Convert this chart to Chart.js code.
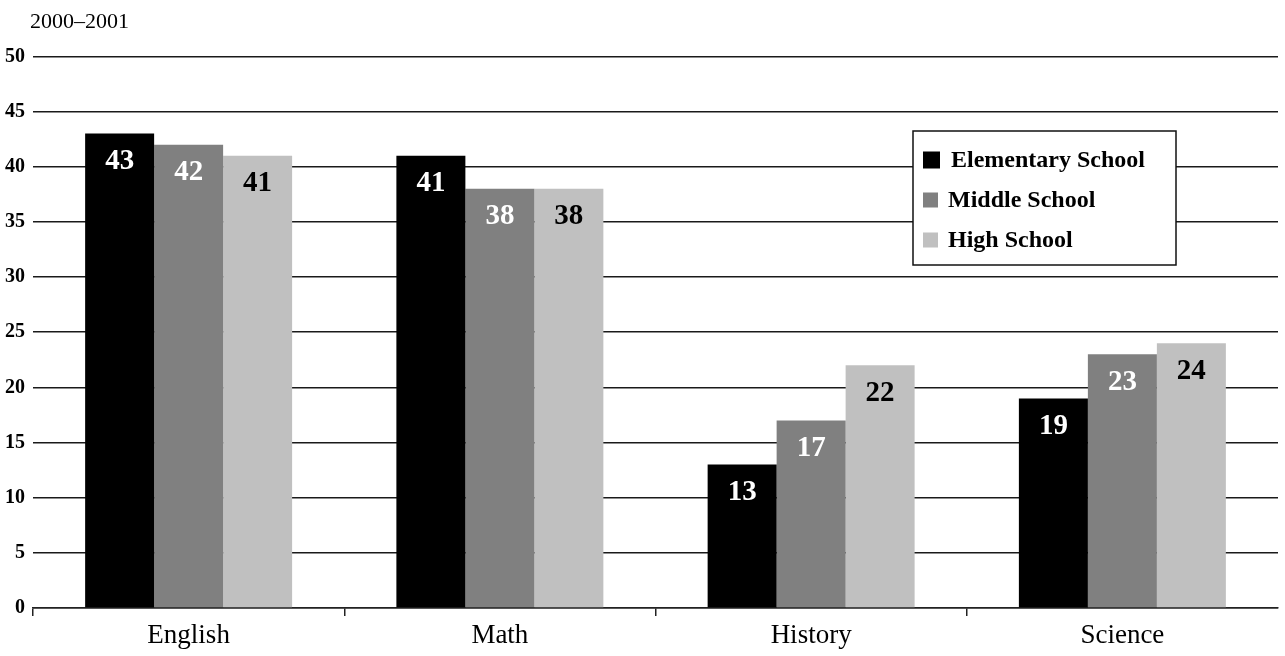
<!DOCTYPE html>
<html>
<head>
<meta charset="utf-8">
<title>2000–2001</title>
<script src="https://cdn.jsdelivr.net/npm/chart.js@4/dist/chart.umd.min.js"></script>
<style>
  html, body { margin: 0; padding: 0; background: #fff; }
  #wrap { position: relative; width: 1285px; height: 656px; }
</style>
</head>
<body>
<div id="wrap"><canvas id="chart" width="1285" height="656"></canvas></div>
<script>
// Subjects along the x axis
const subjects = ['English', 'Math', 'History', 'Science'];

// Values per school level, one per subject
const elementarySchool = [43, 41, 13, 19];
const middleSchool = [42, 38, 17, 23];
const highSchool = [41, 38, 22, 24];

const seriesNames = ['Elementary School', 'Middle School', 'High School'];
const yTicks = [0, 5, 10, 15, 20, 25, 30, 35, 40, 45, 50];
const periodTitle = '2000–2001';

const SERIF = '"Liberation Serif", "Times New Roman", serif';

// Value printed inside the top of each bar
const barValueLabels = {
  id: 'barValueLabels',
  afterDatasetsDraw(chart) {
    const ctx = chart.ctx;
    ctx.save();
    ctx.font = 'bold 29px ' + SERIF;
    ctx.textAlign = 'center';
    ctx.textBaseline = 'middle';
    chart.data.datasets.forEach((ds, i) => {
      const meta = chart.getDatasetMeta(i);
      ctx.fillStyle = ds.labelColor;
      meta.data.forEach((bar, j) => {
        ctx.fillText(String(ds.data[j]), bar.x, bar.y + 28);
      });
    });
    ctx.restore();
  }
};

// Boxed legend floating over the plot area
const boxedLegend = {
  id: 'boxedLegend',
  afterDraw(chart, args, opts) {
    const ctx = chart.ctx;
    const { x, y, w, h, rowGap, firstRow } = opts;
    ctx.save();
    ctx.fillStyle = '#fff';
    ctx.fillRect(x, y, w, h);
    ctx.strokeStyle = '#111';
    ctx.lineWidth = 1.5;
    ctx.strokeRect(x, y, w, h);
    ctx.font = 'bold 24px ' + SERIF;
    ctx.textBaseline = 'middle';
    ctx.textAlign = 'left';
    chart.data.datasets.forEach((ds, i) => {
      const cy = y + firstRow + i * rowGap;
      const s = i === 0 ? 17 : 15;
      ctx.fillStyle = ds.backgroundColor;
      ctx.fillRect(x + 10, cy - s / 2, s, s);
      ctx.fillStyle = '#000';
      ctx.fillText(ds.label, x + (i === 0 ? 38 : 35), cy + 1);
    });
    ctx.restore();
  }
};

// Shift the title so it starts just right of the tick labels
const titleShift = {
  id: 'titleShift',
  afterLayout(chart) {
    if (chart.titleBlock) {
      chart.titleBlock.left = 30;
    }
  }
};

new Chart(document.getElementById('chart'), {
  type: 'bar',
  data: {
    labels: subjects,
    datasets: [
      { label: seriesNames[0], data: elementarySchool, backgroundColor: '#000000', labelColor: '#ffffff' },
      { label: seriesNames[1], data: middleSchool, backgroundColor: '#808080', labelColor: '#ffffff' },
      { label: seriesNames[2], data: highSchool, backgroundColor: '#c0c0c0', labelColor: '#000000' }
    ]
  },
  options: {
    responsive: false,
    animation: false,
    layout: { padding: { left: 0, right: 7, top: 0, bottom: 0 } },
    datasets: {
      bar: { categoryPercentage: 0.665, barPercentage: 1.0, borderWidth: 0 }
    },
    plugins: {
      legend: { display: false },
      tooltip: { enabled: false },
      title: {
        display: true,
        text: periodTitle,
        align: 'start',
        color: '#000',
        font: { family: SERIF, size: 22, weight: 'normal' },
        padding: { top: 9, bottom: 21 }
      },
      boxedLegend: { x: 913, y: 131, w: 263, h: 134, firstRow: 29, rowGap: 40 }
    },
    scales: {
      x: {
        grid: {
          display: true,
          drawOnChartArea: false,
          drawTicks: true,
          tickLength: 8,
          // no tick mark at the closing right edge
          tickColor: (c) => (c.tick === undefined ? 'rgba(0,0,0,0)' : '#222'),
          lineWidth: 1.5
        },
        border: { display: true, color: '#222', width: 1.5 },
        ticks: {
          color: '#000',
          font: { family: SERIF, size: 27 },
          padding: 4
        },
        afterFit(scale) { scale.height = 48; }
      },
      y: {
        min: 0,
        max: 50,
        afterBuildTicks(scale) {
          scale.ticks = yTicks.map(v => ({ value: v }));
        },
        grid: {
          color: '#1a1a1a',
          lineWidth: 1.6,
          drawTicks: false
        },
        border: { display: false },
        ticks: {
          color: '#000',
          font: { family: SERIF, size: 20, weight: 'bold' },
          padding: 8
        },
        afterFit(scale) { scale.width = 33; }
      }
    }
  },
  plugins: [barValueLabels, boxedLegend, titleShift]
});
</script>
</body>
</html>
